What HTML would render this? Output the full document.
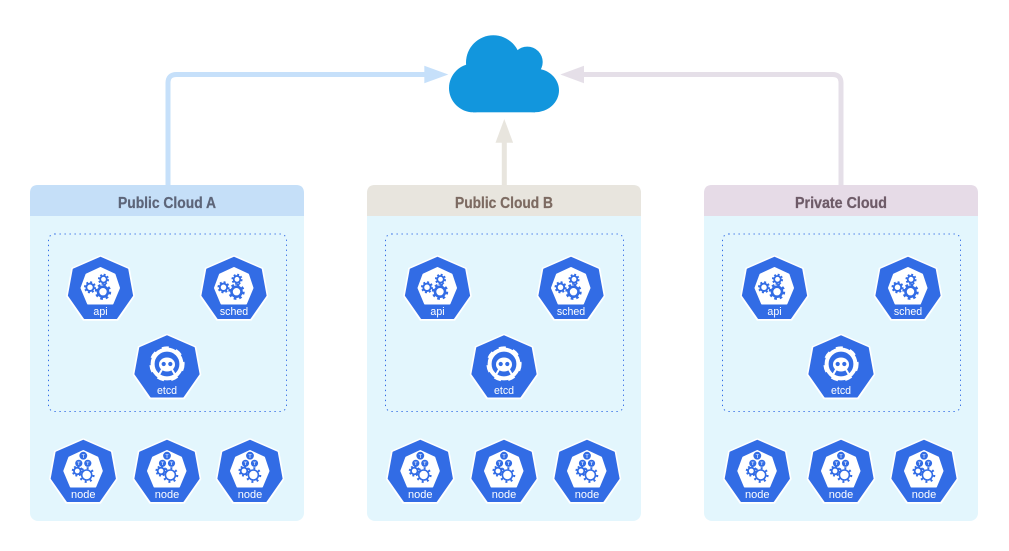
<!DOCTYPE html>
<html><head><meta charset="utf-8"><style>
html,body{margin:0;padding:0;background:#fff}
svg{display:block}
text{font-family:"Liberation Sans",sans-serif}
.l{fill:#fff;font-size:10.6px;text-anchor:middle}
.n{fill:#fff;font-size:11px;text-anchor:middle}
.t{font-size:16px;font-weight:bold;stroke-width:.25px}
.s{filter:blur(.35px)}
</style></head><body>
<svg width="1009" height="551" viewBox="0 0 1009 551" xmlns="http://www.w3.org/2000/svg">
<defs>
<g id="hex">
<polygon points="0,0 28.5,12.5 33.5,40 17,64 -17,64 -33.5,40 -28.5,12.5" fill="#fff" stroke="#fff" stroke-width="1.6" stroke-linejoin="round"/>
<polygon points="0,1.6 27,13.4 31.8,39.6 16,62.2 -16,62.2 -31.8,39.6 -27,13.4" fill="#326ce5" stroke="#326ce5" stroke-width="1.6" stroke-linejoin="round"/>
</g>
<g id="inner"><polygon points="0,12 14,18.5 18.5,32 12,47.5 -12.5,47.5 -19,32 -14,18.5" fill="#fff" stroke="#fff" stroke-width="2" stroke-linejoin="round"/></g>
<g id="gB" fill="none" stroke="#326ce5"><circle r="5" stroke-width="2.6"/><circle r="7" stroke-width="2.4" stroke-dasharray="2.7 2.8"/></g>
<g id="gM" fill="none" stroke="#326ce5"><circle r="3.7" stroke-width="1.9"/><circle r="5.1" stroke-width="1.8" stroke-dasharray="2 2"/></g>
<g id="gS" fill="none" stroke="#326ce5"><circle r="3.3" stroke-width="1.8"/><circle r="4.7" stroke-width="1.7" stroke-dasharray="1.9 1.8"/></g>
<g id="gears"><use href="#inner"/><use href="#gB" x="2.5" y="35.7"/><use href="#gM" x="-10.5" y="31.3"/><use href="#gS" x="3" y="23.3"/></g>
<g id="etcd"><use href="#hex"/>
<circle cx="0" cy="29.5" r="14.4" fill="none" stroke="#fff" stroke-width="4"/>
<circle cx="0" cy="29.5" r="16.4" fill="none" stroke="#fff" stroke-width="2.4" stroke-dasharray="7 7.4"/>
<ellipse cx="0" cy="30" rx="8" ry="7" fill="#fff"/>
<path d="M-5,35 L-9,42 M5,35 L9,42" stroke="#fff" stroke-width="2"/>
<circle cx="-3.3" cy="29.5" r="2.1" fill="#326ce5"/><circle cx="3.3" cy="29.5" r="2.1" fill="#326ce5"/>
</g>
<g id="node"><use href="#hex"/><use href="#inner"/>
<circle cx="0" cy="16.7" r="3.9" fill="#326ce5"/><circle cx="-4.5" cy="24.3" r="3.6" fill="#326ce5"/><circle cx="4.5" cy="24.3" r="3.6" fill="#326ce5"/>
<path d="M-1.5,15.5H1.5M0,15.5V19M-6,23H-3M-4.5,23V26M3,23H6M4.5,23V26" stroke="#fff" stroke-width=".6"/>
<use href="#gS" x="-6" y="32"/>
<g fill="none" stroke="#326ce5"><circle cx="3.4" cy="36" r="5" stroke-width="1.6"/><circle cx="3.4" cy="36" r="6.8" stroke-width="2.2" stroke-dasharray="2 3.3"/></g>
</g>
<g id="stack">
<use href="#hex" x="100.5" y="256"/><use href="#gears" x="100.5" y="256"/><text class="l" x="100.5" y="315">api</text>
<use href="#hex" x="234" y="256"/><use href="#gears" x="234" y="256"/><text class="l" x="234" y="315">sched</text>
<use href="#etcd" x="167" y="334.5"/><text class="l" x="167" y="394">etcd</text>
<use href="#node" x="83.3" y="439"/><text class="n" x="83.3" y="498">node</text>
<use href="#node" x="167" y="439"/><text class="n" x="167" y="498">node</text>
<use href="#node" x="250" y="439"/><text class="n" x="250" y="498">node</text>
</g>
<g id="panel">
<rect x="30" y="185" width="274" height="336" rx="8" fill="#e3f6fd"/>
<rect x="48.5" y="234" width="238" height="177.5" rx="6" fill="none" stroke="#326ce5" stroke-width="1" stroke-dasharray="1.3 3.7"/>
</g>
</defs>
<path d="M168,185 V83 Q168,74.5 176.5,74.5 H426" fill="none" stroke="#c6e0fa" stroke-width="5"/>
<polygon points="424.3,65.7 448.3,74.5 424.3,83.3" fill="#c6e0fa"/>
<path d="M841,185 V83 Q841,74.5 832.5,74.5 H583" fill="none" stroke="#e5dfe8" stroke-width="5"/>
<polygon points="584,65.7 560.3,74.5 584,83.3" fill="#e5dfe8"/>
<path d="M504.3,185 V141" fill="none" stroke="#e8e5de" stroke-width="5"/>
<polygon points="495.5,142.7 504.3,119 513.1,142.7" fill="#e8e5de"/>
<g fill="#1296dd">
<circle cx="473.3" cy="88" r="24.3"/><ellipse cx="534.7" cy="90.4" rx="24.3" ry="21.9"/>
<circle cx="493.3" cy="62.6" r="27.3"/><circle cx="527.3" cy="62" r="15.4"/>
<rect x="473" y="70" width="62" height="42.3"/>
</g>
<use href="#panel"/><use href="#panel" x="337"/><use href="#panel" x="674"/>
<path d="M30,216 V193 Q30,185 38,185 H296 Q304,185 304,193 V216 Z" fill="#c5dff8"/>
<path d="M367,216 V193 Q367,185 375,185 H633 Q641,185 641,193 V216 Z" fill="#e8e5de"/>
<path d="M704,216 V193 Q704,185 712,185 H970 Q978,185 978,193 V216 Z" fill="#e6dbe7"/>
<text class="t" x="118" y="208" fill="#5d6579" stroke="#5d6579" textLength="98" lengthAdjust="spacingAndGlyphs">Public Cloud A</text>
<text class="t" x="455" y="208" fill="#7d6b62" stroke="#7d6b62" textLength="98" lengthAdjust="spacingAndGlyphs">Public Cloud B</text>
<text class="t" x="795" y="208" fill="#6e5b68" stroke="#6e5b68" textLength="92" lengthAdjust="spacingAndGlyphs">Private Cloud</text>
<g class="s"><use href="#stack"/><use href="#stack" x="337"/><use href="#stack" x="674"/></g>
</svg>
</body></html>
